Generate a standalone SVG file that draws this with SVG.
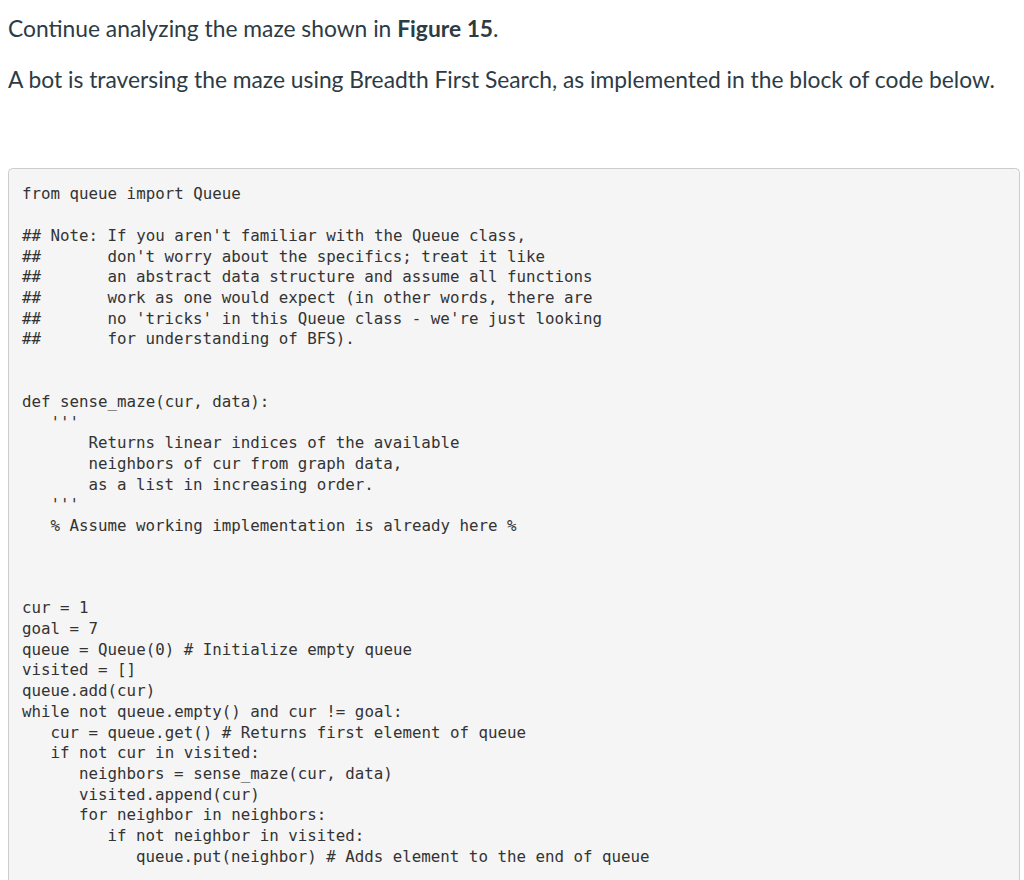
<svg xmlns="http://www.w3.org/2000/svg" width="1024" height="880" viewBox="0 0 1024 880">
<style>
.h{font-family:Lato,"Liberation Sans",sans-serif;font-size:22.8px;fill:#2d3b45}
.c{font-family:"DejaVu Sans Mono","Liberation Mono",monospace;font-size:15.8px;fill:#333}
</style>
<rect width="1024" height="880" fill="#fff"/>
<g id="header">
<text class="h" x="8" y="37">Continue analyzing the maze shown in <tspan font-weight="bold">Figure 15</tspan>.</text>
<text class="h" x="8" y="88">A bot is traversing the maze using Breadth First Search, as implemented in the block of code below.</text>
</g>
<g id="code">
<rect x="8.5" y="168.5" width="1011" height="730" rx="4" fill="#f5f5f5" stroke="#ccc"/>
<g class="c">
<text x="22" y="199">from queue import Queue</text>
<text x="22" y="241">## Note: If you aren't familiar with the Queue class,</text>
<text x="22" y="262">##</text><text x="107.5" y="262">don't worry about the specifics; treat it like</text>
<text x="22" y="282">##</text><text x="107.5" y="282">an abstract data structure and assume all functions</text>
<text x="22" y="303">##</text><text x="107.5" y="303">work as one would expect (in other words, there are</text>
<text x="22" y="324">##</text><text x="107.5" y="324">no 'tricks' in this Queue class - we're just looking</text>
<text x="22" y="344">##</text><text x="107.5" y="344">for understanding of BFS).</text>
<text x="22" y="407">def sense_maze(cur, data):</text>
<text x="50.5" y="428">'''</text>
<text x="88.5" y="448">Returns linear indices of the available</text>
<text x="88.5" y="469">neighbors of cur from graph data,</text>
<text x="88.5" y="490">as a list in increasing order.</text>
<text x="50.5" y="510">'''</text>
<text x="50.5" y="531">% Assume working implementation is already here %</text>
<text x="22" y="613">cur = 1</text>
<text x="22" y="634">goal = 7</text>
<text x="22" y="655">queue = Queue(0) # Initialize empty queue</text>
<text x="22" y="675">visited = []</text>
<text x="22" y="696">queue.add(cur)</text>
<text x="22" y="717">while not queue.empty() and cur != goal:</text>
<text x="50.5" y="738">cur = queue.get() # Returns first element of queue</text>
<text x="50.5" y="758">if not cur in visited:</text>
<text x="79" y="779">neighbors = sense_maze(cur, data)</text>
<text x="79" y="800">visited.append(cur)</text>
<text x="79" y="820">for neighbor in neighbors:</text>
<text x="107.5" y="841">if not neighbor in visited:</text>
<text x="136" y="862">queue.put(neighbor) # Adds element to the end of queue</text>
</g>
</g>
</svg>
